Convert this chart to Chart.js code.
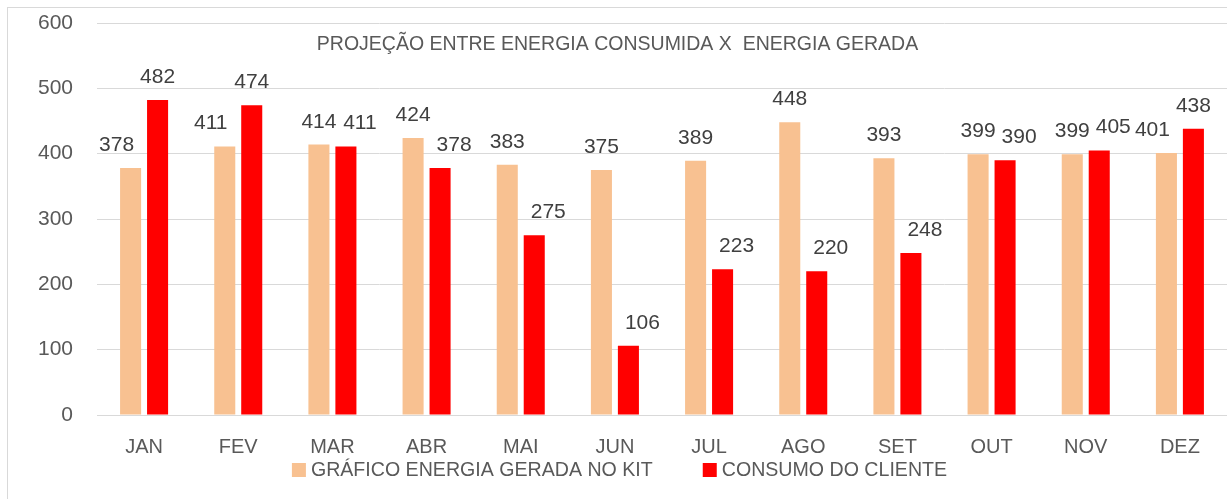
<!DOCTYPE html>
<html>
<head>
<meta charset="utf-8">
<script src="https://cdn.jsdelivr.net/npm/chart.js@4.4.0/dist/chart.umd.min.js"></script>
<style>
  html, body { margin: 0; padding: 0; background: #fff; overflow: hidden; }
  #wrap { position: relative; width: 1227px; height: 499px; overflow: hidden; }
  #frame { position: absolute; left: 7px; top: 7px; width: 1230px; height: 500px; border: 1px solid #d9d9d9; box-sizing: border-box; }
  canvas { position: absolute; left: 0; top: 0; }
</style>
</head>
<body>
<div id="wrap">
  <div id="frame"></div>
  <canvas id="chart" width="1227" height="499"></canvas>
</div>
<script>
const months = ["JAN", "FEV", "MAR", "ABR", "MAI", "JUN", "JUL", "AGO", "SET", "OUT", "NOV", "DEZ"];
const geradaKit = [378, 411, 414, 424, 383, 375, 389, 448, 393, 399, 399, 401];
const consumoCliente = [482, 474, 411, 378, 275, 106, 223, 220, 248, 390, 405, 438];
const chartTitle = "PROJEÇÃO ENTRE ENERGIA CONSUMIDA X  ENERGIA GERADA";

const FONT = "'Liberation Sans', Arial, sans-serif";

// value labels above bars, title inside the plot and legend at bottom
const extras = {
  id: "extras",
  afterDatasetsDraw(chart) {
    const ctx = chart.ctx;
    ctx.save();
    ctx.font = "21px " + FONT;
    ctx.fillStyle = "#404040";
    ctx.textAlign = "center";
    ctx.textBaseline = "alphabetic";
    const a = chart.getDatasetMeta(0).data;
    const b = chart.getDatasetMeta(1).data;
    const da = chart.data.datasets[0].data;
    const db = chart.data.datasets[1].data;
    a.forEach((barA, j) => {
      const barB = b[j];
      // keep the two labels of a month from colliding
      let offA = 0, offB = 14;
      if (db[j] > da[j] + 20) { offA = -14; offB = 0; }
      ctx.fillText(da[j], barA.x + offA, barA.y - 17);
      ctx.fillText(db[j], barB.x + offB, barB.y - 17);
    });

    // title
    ctx.font = "19.5px " + FONT;
    ctx.fillStyle = "#595959";
    ctx.textBaseline = "middle";
    ctx.fillText(chartTitle, chart.width / 2 + 4, chart.chartArea.top + 22);

    // legend
    ctx.font = "19.6px " + FONT;
    ctx.textAlign = "left";
    const box = 14, gapText = 5, gapItem = 50;
    const widths = chart.data.datasets.map(ds => box + gapText + ctx.measureText(ds.label).width);
    const total = widths.reduce((s, w) => s + w, 0) + gapItem * (widths.length - 1);
    let x = chart.width / 2 + 6 - total / 2;
    const y = chart.chartArea.bottom + 55;
    chart.data.datasets.forEach((ds, i) => {
      ctx.fillStyle = ds.backgroundColor;
      ctx.fillRect(x, y - box / 2, box, box);
      ctx.fillStyle = "#595959";
      ctx.fillText(ds.label, x + box + gapText, y + 1);
      x += widths[i] + gapItem;
    });
    ctx.restore();
  }
};

new Chart(document.getElementById("chart"), {
  type: "bar",
  data: {
    labels: months,
    datasets: [
      {
        label: "GRÁFICO ENERGIA GERADA NO KIT",
        data: geradaKit,
        backgroundColor: "#F8C191",
        categoryPercentage: 0.573,
        barPercentage: 0.78
      },
      {
        label: "CONSUMO DO CLIENTE",
        data: consumoCliente,
        backgroundColor: "#FF0000",
        categoryPercentage: 0.573,
        barPercentage: 0.78
      }
    ]
  },
  options: {
    responsive: false,
    animation: false,
    layout: { padding: { top: 23, right: 0, left: 0, bottom: 20 } },
    plugins: {
      legend: { display: false },
      tooltip: { enabled: false },
      title: { display: false }
    },
    scales: {
      x: {
        grid: { display: false, drawTicks: false },
        border: { display: true, color: "#d9d9d9" },
        ticks: { color: "#595959", font: { family: FONT, size: 20 }, padding: 20 }
      },
      y: {
        min: 0,
        max: 600,
        afterFit(scale) {
          scale.width = 97;
          scale.paddingTop = 0;
          scale.paddingBottom = 0;
        },
        grid: { color: "#d9d9d9", drawTicks: false },
        border: { display: false },
        ticks: { stepSize: 100, color: "#595959", font: { family: FONT, size: 21 }, padding: 24 }
      }
    }
  },
  plugins: [extras]
});
</script>
</body>
</html>
